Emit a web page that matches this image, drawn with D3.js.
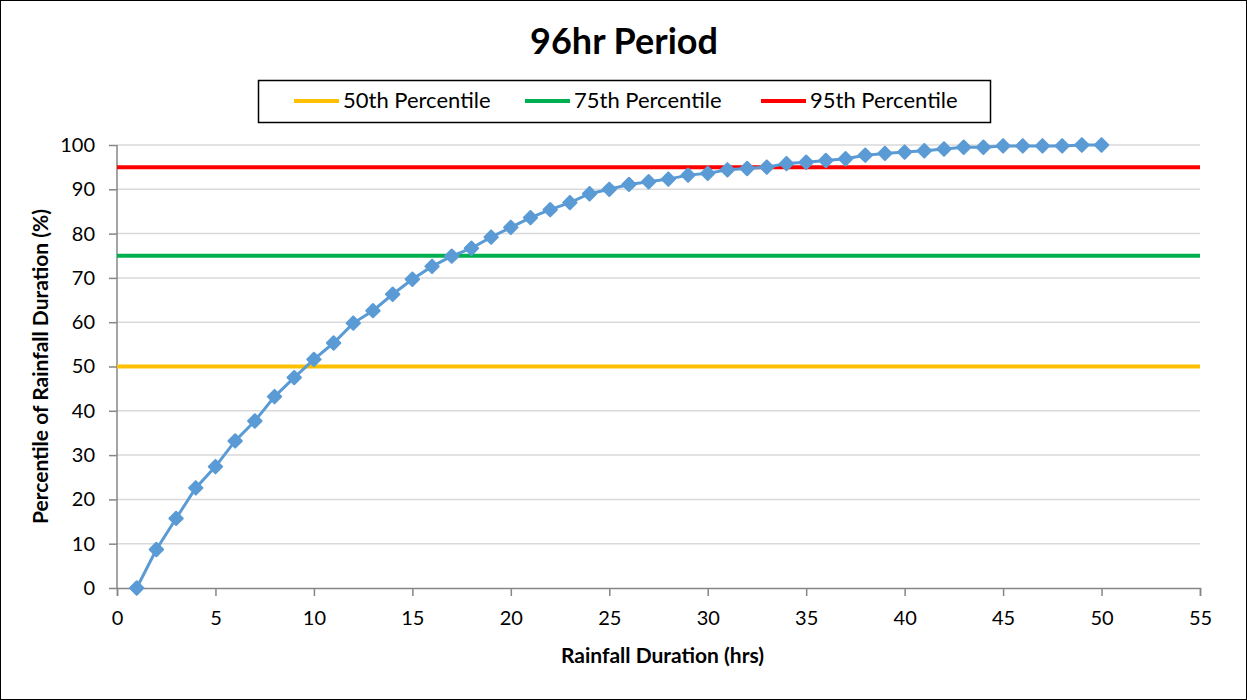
<!DOCTYPE html>
<meta charset="utf-8">
<script src="https://d3js.org/d3.v7.min.js"></script>
<style>
  body { margin: 0; background: #fff; }
  text { font-family: Lato, "Open Sans", sans-serif; fill: #000; }
</style>
<div id="chart"></div>
<script>

// rainfall duration (hrs) and cumulative percentile
var durations = d3.range(1, 51)
var percentiles = [0, 8.7, 15.7, 22.6, 27.4, 33.2, 37.7, 43.2, 47.5, 51.6,
                   55.3, 59.8, 62.6, 66.3, 69.7, 72.6, 74.9, 76.7, 79.2, 81.4,
                   83.6, 85.4, 87.0, 89.0, 90.0, 91.1, 91.7, 92.3, 93.2, 93.6,
                   94.4, 94.7, 95.0, 95.8, 96.1, 96.5, 96.9, 97.7, 98.1, 98.4,
                   98.7, 99.1, 99.5, 99.5, 99.8, 99.8, 99.8, 99.8, 100, 100]

var refNames = ["50th Percentile", "75th Percentile", "95th Percentile"]
var refValues = [50, 75, 95]
var refColors = ["#ffc000", "#00b050", "#ff0000"]

var xTicks = d3.range(0, 56, 5)
var yTicks = d3.range(0, 101, 10)

var W = 1247, H = 700
var margin = {top: 145, right: 47, bottom: 112, left: 117}
var width = W - margin.left - margin.right,
    height = H - margin.top - margin.bottom

var svg = d3.select("#chart").append("svg")
    .attr("width", W).attr("height", H)

// outer border
svg.append("rect")
    .attr("x", 0.5).attr("y", 0.5)
    .attr("width", W - 1).attr("height", H - 1)
    .attr("fill", "#fff").attr("stroke", "#000").attr("stroke-width", 1)

svg.append("text")
    .attr("x", 624).attr("y", 54)
    .attr("text-anchor", "middle")
    .style("font-size", "36px").style("font-weight", "bold")
    .text("96hr Period")

var g = svg.append("g")
    .attr("transform", "translate(" + margin.left + "," + margin.top + ")")

var x = d3.scaleLinear().domain([0, 55]).range([0, width])
var y = d3.scaleLinear().domain([0, 100]).range([height, 0])

// gridlines
g.append("g").selectAll("line")
    .data(yTicks.filter(function(d){ return d > 0 }))
  .enter().append("line")
    .attr("x1", 0).attr("x2", width)
    .attr("y1", function(d){ return y(d) }).attr("y2", function(d){ return y(d) })
    .attr("stroke", "#d9d9d9").attr("stroke-width", 1.5)

// axes
var xAxis = g.append("g")
    .attr("transform", "translate(0," + height + ")")
    .call(d3.axisBottom(x).tickValues(xTicks).tickSize(8).tickPadding(15))
var yAxis = g.append("g")
    .call(d3.axisLeft(y).tickValues(yTicks).tickSize(8).tickPadding(14))

;[xAxis, yAxis].forEach(function(a) {
  a.select(".domain").attr("stroke", "#868686").attr("stroke-width", 1.5)
  a.selectAll(".tick line").attr("stroke", "#868686").attr("stroke-width", 1.5)
  a.selectAll("text").style("font-size", "20px").style("font-family", "Lato, sans-serif").attr("fill", "#000")
})
yAxis.select(".domain").attr("d", "M0," + height + "V0")

// percentile reference lines
g.append("g").selectAll("line")
    .data(refValues)
  .enter().append("line")
    .attr("x1", x(0)).attr("x2", x(55))
    .attr("y1", function(d){ return y(d) }).attr("y2", function(d){ return y(d) })
    .attr("stroke", function(d, i){ return refColors[i] })
    .attr("stroke-width", 4)

// data line
var pts = durations.map(function(d, i){ return [d, percentiles[i]] })
g.append("path")
    .datum(pts)
    .attr("d", d3.line().x(function(d){ return x(d[0]) }).y(function(d){ return y(d[1]) }))
    .attr("fill", "none").attr("stroke", "#5b9bd5").attr("stroke-width", 3)

g.append("g").selectAll("path")
    .data(pts)
  .enter().append("path")
    .attr("d", d3.symbol().type(d3.symbolDiamond2).size(115))
    .attr("transform", function(d){ return "translate(" + x(d[0]) + "," + y(d[1]) + ")" })
    .attr("fill", "#5b9bd5").attr("stroke", "#5b9bd5").attr("stroke-width", 2)
    .attr("stroke-linejoin", "round")

// axis titles
svg.append("text")
    .attr("x", margin.left + x(27.5) + 4).attr("y", 663)
    .attr("text-anchor", "middle")
    .style("font-size", "21px").style("font-weight", "bold")
    .text("Rainfall Duration  (hrs)")

svg.append("text")
    .attr("transform", "translate(48," + (margin.top + height / 2) + ") rotate(-90)")
    .attr("text-anchor", "middle")
    .style("font-size", "21px").style("font-weight", "bold")
    .text("Percentile of Rainfall Duration (%)")

// legend
var legend = svg.append("g")
legend.append("rect")
    .attr("x", 258.5).attr("y", 80.5).attr("width", 732).attr("height", 42)
    .attr("fill", "#fff").attr("stroke", "#000").attr("stroke-width", 1.5)
var legX = [294, 525, 761]
refNames.forEach(function(name, i) {
  legend.append("line")
      .attr("x1", legX[i]).attr("x2", legX[i] + 45)
      .attr("y1", 101).attr("y2", 101)
      .attr("stroke", refColors[i]).attr("stroke-width", 4)
  legend.append("text")
      .attr("x", legX[i] + 49).attr("y", 108)
      .style("font-size", "22px")
      .text(name)
})
</script>
